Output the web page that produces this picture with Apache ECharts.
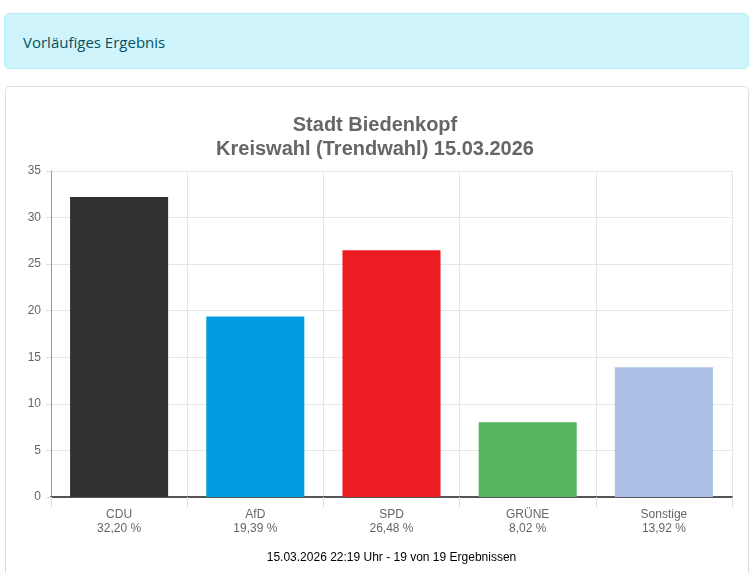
<!DOCTYPE html>
<html>
<head>
<meta charset="utf-8">
<script src="https://cdn.jsdelivr.net/npm/echarts@6/dist/echarts.min.js"></script>
<style>
  html, body { margin: 0; padding: 0; background: #fff; overflow: hidden; }
  body { width: 750px; height: 573px; position: relative; }
  .alert {
    position: absolute; left: 4px; top: 13px; width: 745px; height: 56px;
    background: #cff4fc; border: 1px solid #b6effb; border-radius: 5px;
    color: #055160; font-family: "Open Sans", sans-serif; font-size: 15px;
    line-height: 56px; padding-left: 18px; box-sizing: border-box;
  }
  .card {
    position: absolute; left: 5px; top: 86px; width: 744px; height: 520px;
    border: 1px solid #dcdcdc; border-radius: 5px; box-sizing: border-box;
  }
  #chart { position: absolute; left: 0; top: 86px; width: 750px; height: 487px; }
</style>
</head>
<body>
<div class="alert">Vorläufiges Ergebnis</div>
<div class="card"></div>
<div id="chart"></div>
<script>
// Ergebnisse in Prozent
const parteien = ["CDU", "AfD", "SPD", "GRÜNE", "Sonstige"];
const anteile = [32.20, 19.39, 26.48, 8.02, 13.92];
const farben = ["#323031", "#009ee0", "#ed1c24", "#56b560", "#abbfe4"];
const titel = ["Stadt Biedenkopf", "Kreiswahl (Trendwahl) 15.03.2026"];
const stand = "15.03.2026 22:19 Uhr - 19 von 19 Ergebnissen";

const chart = echarts.init(document.getElementById("chart"));

const fmt = (v) => v.toFixed(2).replace(".", ",") + " %";
const font = "Arial, 'Liberation Sans', sans-serif";

chart.setOption({
  animation: false,
  textStyle: { fontFamily: font },
  title: {
    text: titel.join("\n"),
    left: "center",
    top: 27,
    padding: 0,
    textStyle: { fontSize: 20, fontWeight: "bold", color: "#666", lineHeight: 24, fontFamily: font }
  },
  graphic: [{
    type: "text",
    x: 391.5,
    y: 472,
    style: {
      text: stand, fill: "#000", fontSize: 12, fontFamily: font,
      align: "center", verticalAlign: "middle"
    }
  }],
  grid: { left: 51, right: 18, top: 85, bottom: 76, outerBoundsMode: "none" },
  xAxis: {
    type: "category",
    data: parteien,
    axisLine: { lineStyle: { color: "#555", width: 2 } },
    axisTick: { show: true, length: 10, interval: 0, lineStyle: { color: "#ddd" } },
    splitLine: { show: true, interval: 0, lineStyle: { color: "#e6e6e6" } },
    axisLabel: {
      margin: 11, color: "#666", fontSize: 12, lineHeight: 14, interval: 0, fontFamily: font,
      formatter: (name, i) => name + "\n" + fmt(anteile[i])
    }
  },
  yAxis: {
    type: "value",
    min: 0,
    max: 35,
    interval: 5,
    axisLine: { show: true, lineStyle: { color: "#999" } },
    axisTick: { show: true, length: 5, lineStyle: { color: "#ddd" } },
    splitLine: { lineStyle: { color: "#e6e6e6" } },
    axisLabel: { margin: 10, color: "#666", fontSize: 12, fontFamily: font }
  },
  series: [{
    type: "bar",
    data: anteile.map((v, i) => ({ value: v, itemStyle: { color: farben[i] } })),
    barCategoryGap: "28%"
  }]
});
</script>
</body>
</html>
